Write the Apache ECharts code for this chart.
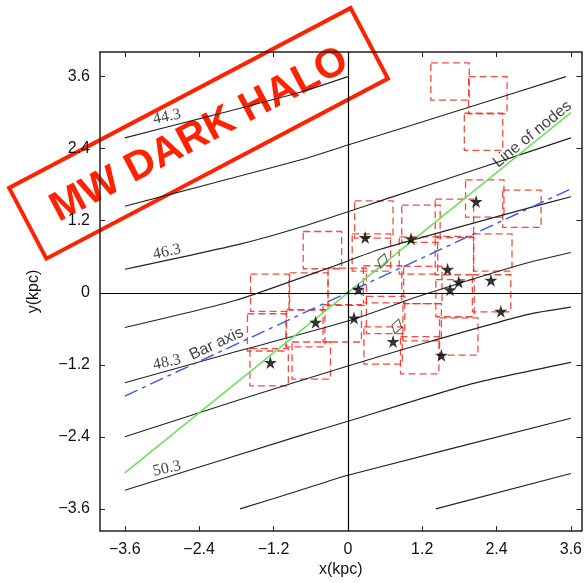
<!DOCTYPE html>
<html><head><meta charset="utf-8">
<script src="https://cdn.jsdelivr.net/npm/echarts@6/dist/echarts.min.js"></script>
<style>html,body{margin:0;padding:0;background:#fff}#c{width:585px;height:583px}</style>
</head><body><div id="c"></div>
<script>
// ---- data ----
const tickValues = [-3.6, -2.4, -1.2, 0, 1.2, 2.4, 3.6];

const contour443 = [[-3.6, 2.58], [-2.2, 2.95], [-0.77, 3.34], [0.0, 3.6]];
const contour2 = [[-3.6, 1.44], [-2.2, 1.82], [-0.77, 2.21], [0.0, 2.46], [1.8, 3.04], [3.52, 3.6]];
const contour463 = [[-3.6, 0.39], [-1.74, 0.81], [-0.77, 1.09], [0.67, 1.58], [2.11, 2.07], [3.6, 2.58]];
const contour4 = [[-3.6, -0.58], [-1.82, -0.13], [-0.21, 0.45], [0.51, 0.72], [2.91, 1.41], [3.6, 1.60]];
const contour483 = [[-3.6, -1.50], [-1.8, -0.98], [0.0, -0.47], [1.23, -0.03], [2.83, 0.48], [3.6, 0.67]];
const contour6 = [[-3.6, -2.40], [-1.8, -1.80], [0.0, -1.22], [1.23, -0.84], [2.91, -0.36], [3.6, -0.24]];
const contour503 = [[-3.6, -3.29], [-0.77, -2.38], [0.0, -2.14], [1.95, -1.53], [3.6, -1.16]];
const contour8 = [[-1.74, -3.6], [-0.77, -3.29], [0.0, -3.04], [3.6, -2.09]];
const contour9 = [[1.42, -3.6], [3.6, -3.01]];
const contours = [contour443, contour2, contour463, contour4, contour483, contour6, contour503, contour8, contour9];

const contourLabels = [[-2.92, 2.93, '44.3'], [-2.92, 0.68, '46.3'], [-2.92, -1.16, '48.3'], [-2.92, -2.93, '50.3']];
const lineLabels = [[2.98, 2.64, 'Line of nodes'], [-2.12, -0.85, 'Bar axis']];

const lineOfNodes = [[-3.6, -3.0], [3.6, 3.0]];
const barAxis = [[-3.6, -1.72], [3.6, 1.73]];

const stars = [[2.07, 1.52], [0.28, 0.92], [1.02, 0.90], [1.61, 0.39], [1.79, 0.18], [1.65, 0.05],
  [2.31, 0.21], [2.47, -0.31], [0.17, 0.06], [-0.52, -0.49], [0.10, -0.42], [0.73, -0.81],
  [1.51, -1.04], [-1.25, -1.16]];
const diamonds = [[0.56, 0.53], [0.79, -0.56]];

const boxes = [[1.65, 3.52], [2.26, 3.29], [2.19, 2.68], [2.21, 1.57], [2.81, 1.40],
  [0.42, 1.22], [1.72, 1.25], [1.18, 1.15], [-0.41, 0.71], [0.38, 0.67], [1.14, 0.62],
  [1.72, 0.61], [2.34, 0.67], [1.21, 0.13], [1.73, -0.09], [2.32, -0.01], [1.20, -0.49],
  [1.79, -0.73], [1.16, -1.04], [-1.26, 0.00], [-0.63, 0.02], [-0.01, 0.10], [0.56, 0.14],
  [-1.31, -0.66], [-0.68, -0.59], [-0.09, -0.51], [0.57, -0.88], [-1.27, -1.24],
  [-0.59, -1.13], [0.61, -0.37]];

// ---- chart ----
const BOX_HALF = 0.31;
const SANS = '"Liberation Sans", Arial, Helvetica, sans-serif';
const fmt = v => (v < 0 ? '\u2212' + Math.abs(v) : String(v));
const STAR = 'path://M50,0 L61,35 L98,35 L68,57 L79,91 L50,70 L21,91 L32,57 L2,35 L39,35 Z';

const axisCommon = {
  type: 'value',
  splitLine: { show: false },
  axisLine: { show: true, onZero: false, lineStyle: { color: '#222', width: 1.5 } },
  axisTick: { show: true, inside: true, length: 5, customValues: tickValues, lineStyle: { color: '#222' } },
};

const chart = echarts.init(document.getElementById('c'), null, { renderer: 'canvas' });
const series = [];

series.push({
  type: 'custom', name: 'boxes', data: boxes, encode: { x: 0, y: 1 }, z: 2, clip: true,
  renderItem: (params, api) => {
    const x = api.value(0), y = api.value(1);
    const p1 = api.coord([x - BOX_HALF, y + BOX_HALF]);
    const p2 = api.coord([x + BOX_HALF, y - BOX_HALF]);
    return { type: 'rect', shape: { x: p1[0], y: p1[1], width: p2[0] - p1[0], height: p2[1] - p1[1] },
      style: { fill: 'none', stroke: 'rgba(240,45,30,0.85)', lineWidth: 1.3, lineDash: [7, 4] } };
  }
});

contours.forEach((c, i) => series.push({
  type: 'line', data: c, smooth: 0.2, symbol: 'none', z: 3,
  lineStyle: { color: '#222', width: 1.1 },
  markLine: i === 0 ? { silent: true, symbol: 'none', label: { show: false },
    lineStyle: { color: '#000', width: 1.2, type: 'solid' }, data: [{ yAxis: 0 }, { xAxis: 0 }] } : undefined
}));

series.push({ type: 'line', data: lineOfNodes, symbol: 'none', z: 4, lineStyle: { color: '#66e05a', width: 1.4 } });
series.push({ type: 'line', data: barAxis, symbol: 'none', z: 4, lineStyle: { color: '#3a55f0', width: 1.4, type: [14, 5, 4, 5] } });

series.push({
  type: 'scatter', data: contourLabels, symbolSize: 0, z: 6,
  label: { show: true, position: 'inside', formatter: p => p.data[2], rotate: 12,
    fontFamily: '"Liberation Serif", "Times New Roman", serif', fontSize: 16, color: '#111' }
});
series.push({
  type: 'scatter', data: lineLabels.slice(0, 1), symbolSize: 0, z: 6,
  label: { show: true, position: 'inside', formatter: p => p.data[2], rotate: 39,
    fontFamily: SANS, fontSize: 16, color: '#111' }
});
series.push({
  type: 'scatter', data: lineLabels.slice(1), symbolSize: 0, z: 6,
  label: { show: true, position: 'inside', formatter: p => p.data[2], rotate: 25,
    fontFamily: SANS, fontSize: 16, color: '#111' }
});

series.push({ type: 'scatter', data: diamonds, symbol: 'diamond', symbolSize: [10, 15], symbolRotate: -15, z: 7,
  itemStyle: { color: 'rgba(255,255,255,0)', borderColor: '#222', borderWidth: 1 } });
series.push({ type: 'scatter', data: stars, symbol: STAR, symbolSize: 13, z: 8,
  itemStyle: { color: '#000' } });

chart.setOption({
  animation: false,
  backgroundColor: '#fff',
  grid: { left: 100, right: 2, top: 52, bottom: 46 },
  xAxis: [
    Object.assign({}, axisCommon, { min: -4, max: 3.77, position: 'bottom',
      name: 'x(kpc)', nameLocation: 'middle', nameGap: 30,
      nameTextStyle: { fontFamily: SANS, fontSize: 16, color: '#111' },
      axisLabel: { customValues: tickValues, formatter: fmt, margin: 10, fontFamily: SANS, fontSize: 16, color: '#111' } }),
    Object.assign({}, axisCommon, { min: -4, max: 3.77, position: 'top', axisLabel: { show: false } })
  ],
  yAxis: [
    Object.assign({}, axisCommon, { min: -3.97, max: 4.01, position: 'left',
      name: 'y(kpc)', nameLocation: 'middle', nameGap: 58, nameRotate: 90,
      nameTextStyle: { fontFamily: SANS, fontSize: 16, color: '#111' },
      axisLabel: { customValues: tickValues, formatter: fmt, margin: 10, fontFamily: SANS, fontSize: 16, color: '#111' } }),
    Object.assign({}, axisCommon, { min: -3.97, max: 4.01, position: 'right', axisLabel: { show: false } })
  ],
  graphic: [{
    type: 'group', x: 198.5, y: 133.3, rotation: 0.485, z: 100,
    children: [
      { type: 'rect', shape: { x: -193, y: -40, width: 386, height: 80 },
        style: { fill: 'none', stroke: '#ff2200', lineWidth: 4 } },
      { type: 'text', x: 0, y: 2, style: { text: 'MW DARK HALO', align: 'center', verticalAlign: 'middle',
        fontFamily: SANS, fontWeight: 'bold', fontSize: 41, fill: '#ff2200' } }
    ]
  }],
  series: series
});
</script>
</body></html>
